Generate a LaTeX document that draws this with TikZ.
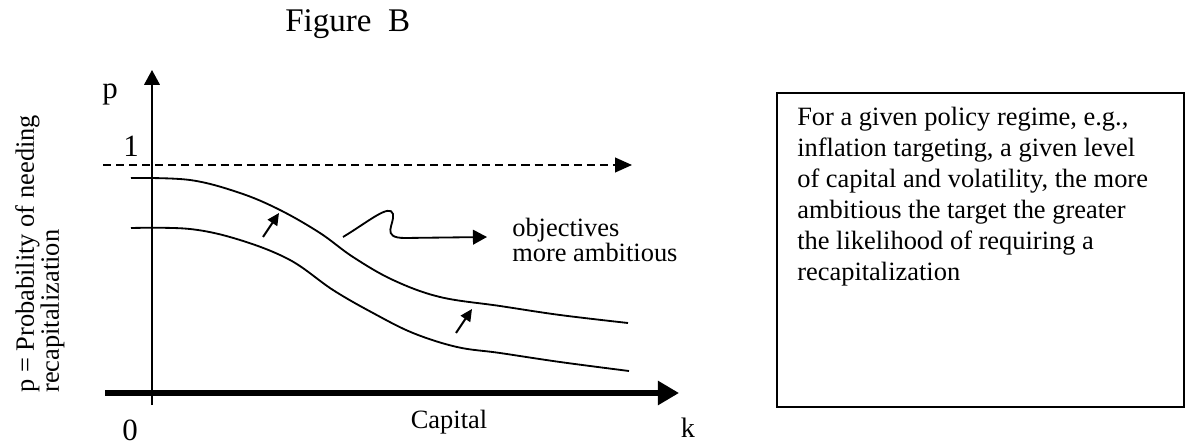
\documentclass[tikz,border=0pt]{standalone}
\usepackage{fontspec}
\setmainfont{Liberation Serif}
\usetikzlibrary{arrows.meta}
\begin{document}
\begin{tikzpicture}[x=0.025cm,y=-0.025cm]
   \useasboundingbox (0,0) rectangle (1186,446);
   \tikzstyle{lbl}=[inner sep=0pt, font=\fontsize{18.8}{22}\selectfont]
   \tikzstyle{big}=[inner sep=0pt, font=\fontsize{22}{24}\selectfont]
   \tikzstyle{curve}=[line width=1.3pt]
   \tikzstyle{small tip}=[-{Triangle[length=8.5pt,width=8pt]}, line width=1.4pt]
   \node[inner sep=0pt, anchor=base west, font=\fontsize{23.5}{26}\selectfont] (title) at (285,32) {Figure\ \ B};
   % axes
   \coordinate (ybot) at (152,405);
   \coordinate (ytop) at (152,70);
   \coordinate (xleft) at (105,393);
   \coordinate (xright) at (679,393);
   \coordinate (dleft) at (103,165);
   \coordinate (dright) at (632,165);
   \draw[line width=1.4pt, -{Triangle[length=10.5pt,width=11pt]}] (ybot) -- (ytop);
   \draw[line width=3.6pt, -{Triangle[length=15pt,width=16.5pt]}] (xleft) -- (xright);
   \draw[line width=1pt, dash pattern=on 5.7pt off 3.6pt, -{Triangle[length=12pt,width=10.5pt]}] (dleft) -- (dright);
   \node[big, anchor=base] (plabel) at (110,99) {p};
   \node[big, anchor=base] (one) at (131,157) {1};
   \node[big, anchor=base] (zero) at (130,440) {0};
   \node[lbl, anchor=base, font=\fontsize{20}{22}\selectfont] (klabel) at (688,437) {k};
   \node[lbl, anchor=base] (capital) at (449,428) {Capital};
   \node[lbl, anchor=north west, rotate=90, align=left, font=\fontsize{18.8}{17.8}\selectfont] (ytitle) at (15,393)
      {p = Probability of needing\\recapitalization};
   % the two curves
   \draw[curve] plot[smooth, tension=0.6] coordinates {(131,178) (190,180) (240,193) (280,210) (320,233)
      (353,257) (393,280) (440,297) (500,306) (560,315) (628,323)};
   \draw[curve] plot[smooth, tension=0.6] coordinates {(131,228) (190,229) (240,240) (290,260) (333,290)
      (373,313) (413,333) (457,347) (500,353) (560,362) (629,371)};
   \coordinate (a1) at (263,237);
   \coordinate (b1) at (279,213);
   \coordinate (a2) at (456,333);
   \coordinate (b2) at (472,309);
   \draw[small tip] (a1) -- (b1);
   \draw[small tip] (a2) -- (b2);
   \coordinate (sq1) at (343,237);
   \coordinate (sq2) at (487,237);
   \draw[line width=1.3pt, -{Triangle[length=10pt,width=10.5pt]}] (sq1) .. controls (368,222) and (390,203) .. (393,214)
      .. controls (395,224) and (380,238) .. (405,238) -- (sq2);
   \node[lbl, anchor=base west, align=left, font=\fontsize{18.8}{17.8}\selectfont] (objectives) at (512,262)
      {objectives\\more ambitious};
   % text box
   \node[draw, line width=1.6pt, minimum width=407*0.025cm, minimum height=314*0.025cm, inner sep=0pt, anchor=north west] (box) at (776,92) {};
   \node[lbl, anchor=north west, align=left] (boxtext) at (797,107)
      {For a given policy regime, e.g.,\\inflation targeting, a given level\\of capital and volatility, the more\\ambitious the target the greater\\the likelihood of requiring a\\recapitalization};
\end{tikzpicture}
\end{document}
